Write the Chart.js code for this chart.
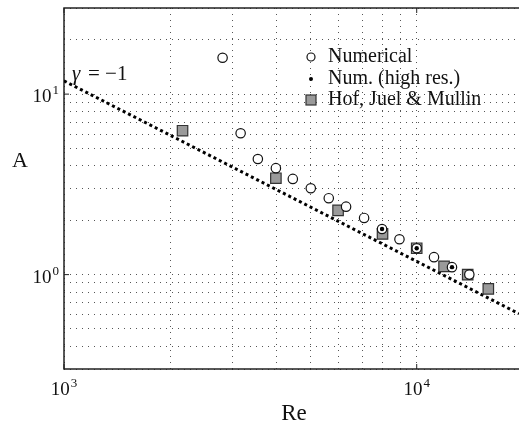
<!DOCTYPE html>
<html>
<head>
<meta charset="utf-8">
<script src="https://cdn.jsdelivr.net/npm/chart.js@4.4.0/dist/chart.umd.min.js"></script>
<style>
  html, body { margin: 0; padding: 0; background: #fff; }
  #wrap { width: 519px; height: 428px; }
</style>
</head>
<body>
<div id="wrap"><canvas id="chart" width="519" height="428"></canvas></div>
<script>
// Numerical runs (open circles)
const numRe = [2816, 3168, 3545, 3988, 4454, 5008, 5632, 6306, 7093, 7975, 8935, 10000, 11195, 12590, 14100];
const numA  = [15.9, 6.07, 4.37, 3.89, 3.39, 3.01, 2.65, 2.38, 2.06, 1.79, 1.57, 1.40, 1.25, 1.10, 1.00];
// Numerical, high resolution (black dots)
const hiRe = [7975, 10000, 12590];
const hiA  = [1.79, 1.40, 1.10];
// Hof, Juel & Mullin experiments (grey squares)
const hofRe = [2168, 3988, 5985, 8000, 10000, 11954, 13950, 15960];
const hofA  = [6.27, 3.42, 2.27, 1.68, 1.40, 1.11, 1.00, 0.834];
// gamma = -1 reference line
const slopeRe = [1000, 19500];
const slopeA  = [11.84, 0.607];

// grid / tick positions
const xGrid = [1000, 2000, 3000, 4000, 5000, 6000, 7000, 8000, 9000, 10000];
const yGrid = [0.3, 0.4, 0.5, 0.6, 0.7, 0.8, 0.9, 1, 2, 3, 4, 5, 6, 7, 8, 9, 10, 20, 30];
const xMajor = [1000, 10000];
const xMajorExp = ['3', '4'];
const yMajor = [1, 10];
const yMajorExp = ['0', '1'];

const serif = '"Liberation Serif", "DejaVu Serif", serif';

function pts(xs, ys) {
    return xs.map(function (x, i) { return { x: x, y: ys[i] }; });
}

// draws "10" with a raised exponent, anchored by align
function drawPow(ctx, exp, x, y, align) {
    ctx.font = '19px ' + serif;
    const wBase = ctx.measureText('10').width;
    ctx.font = '13px ' + serif;
    const wExp = ctx.measureText(exp).width;
    const total = wBase + wExp + 1;
    let left = x;
    if (align === 'right') left = x - total;
    if (align === 'center') left = x - total / 2;
    ctx.textAlign = 'left';
    ctx.textBaseline = 'alphabetic';
    ctx.font = '19px ' + serif;
    ctx.fillText('10', left, y);
    ctx.font = '13px ' + serif;
    ctx.fillText(exp, left + wBase + 1, y - 8);
}

const decorations = {
    id: 'decorations',
    beforeDatasetsDraw(chart) {
        const ctx = chart.ctx;
        const a = chart.chartArea;
        const xs = chart.scales.x;
        const ys = chart.scales.y;
        ctx.save();
        // frame (left, top, bottom)
        ctx.strokeStyle = '#222';
        ctx.lineWidth = 1.5;
        ctx.beginPath();
        ctx.moveTo(a.right + 2, a.top);
        ctx.lineTo(a.left, a.top);
        ctx.lineTo(a.left, a.bottom);
        ctx.lineTo(a.right + 2, a.bottom);
        ctx.stroke();
        // major tick marks
        ctx.lineWidth = 1;
        ctx.beginPath();
        xMajor.forEach(function (v) {
            const px = xs.getPixelForValue(v);
            ctx.moveTo(px, a.bottom); ctx.lineTo(px, a.bottom - 5);
            ctx.moveTo(px, a.top); ctx.lineTo(px, a.top + 5);
        });
        yMajor.forEach(function (v) {
            const py = ys.getPixelForValue(v);
            ctx.moveTo(a.left, py); ctx.lineTo(a.left + 5, py);
        });
        ctx.stroke();
        ctx.restore();
    },
    afterDraw(chart) {
        const ctx = chart.ctx;
        const a = chart.chartArea;
        const xs = chart.scales.x;
        const ys = chart.scales.y;
        ctx.save();
        ctx.fillStyle = '#111';
        // tick labels
        xMajor.forEach(function (v, i) {
            drawPow(ctx, xMajorExp[i], xs.getPixelForValue(v), a.bottom + 26, 'center');
        });
        yMajor.forEach(function (v, i) {
            drawPow(ctx, yMajorExp[i], a.left - 5, ys.getPixelForValue(v) + 8, 'right');
        });
        // axis titles
        ctx.textAlign = 'center';
        ctx.textBaseline = 'middle';
        ctx.font = '22px ' + serif;
        ctx.fillText('A', 20, 161);
        ctx.font = '23px ' + serif;
        ctx.fillText('Re', 294, a.bottom + 45);
        // slope label
        ctx.textAlign = 'left';
        ctx.font = 'italic 21px ' + serif;
        ctx.fillText('γ', 72, 74);
        ctx.font = '21px ' + serif;
        ctx.fillText('= −1', 88, 74);
        // legend
        const lx = 311, tx = 328;
        const rows = [57, 79, 100];
        ctx.font = '20px ' + serif;
        ctx.textBaseline = 'middle';
        ctx.fillText('Numerical', tx, rows[0]);
        ctx.fillText('Num. (high res.)', tx, rows[1]);
        ctx.fillText('Hof, Juel & Mullin', tx, rows[2]);
        ctx.lineWidth = 1.2;
        ctx.strokeStyle = '#111';
        ctx.beginPath();
        ctx.arc(lx, rows[0], 4, 0, Math.PI * 2);
        ctx.fillStyle = '#fff';
        ctx.fill();
        ctx.stroke();
        ctx.beginPath();
        ctx.arc(lx, rows[1], 2, 0, Math.PI * 2);
        ctx.fillStyle = '#000';
        ctx.fill();
        ctx.fillStyle = '#9a9a9a';
        ctx.fillRect(lx - 5, rows[2] - 5, 10, 10);
        ctx.strokeStyle = '#333';
        ctx.strokeRect(lx - 5, rows[2] - 5, 10, 10);
        ctx.restore();
    }
};

const gridDash = [1, 5];

new Chart(document.getElementById('chart'), {
    type: 'scatter',
    data: {
        datasets: [
            {
                label: 'Num. (high res.)',
                data: pts(hiRe, hiA),
                pointStyle: 'circle',
                pointRadius: 2.2,
                backgroundColor: '#000',
                borderColor: '#000',
                borderWidth: 0
            },
            {
                label: 'Numerical',
                data: pts(numRe, numA),
                pointStyle: 'circle',
                pointRadius: 4.7,
                backgroundColor: '#fff',
                borderColor: '#111',
                borderWidth: 1.2
            },
            {
                label: 'Hof, Juel & Mullin',
                data: pts(hofRe, hofA),
                pointStyle: 'rect',
                pointRadius: 7.4,
                backgroundColor: '#9a9a9a',
                borderColor: '#333',
                borderWidth: 1.2
            },
            {
                label: 'gamma = -1',
                type: 'line',
                data: pts(slopeRe, slopeA),
                borderColor: '#000',
                borderWidth: 3,
                borderDash: [3, 3],
                pointRadius: 0,
                fill: false
            }
        ]
    },
    options: {
        responsive: false,
        animation: false,
        layout: { autoPadding: false, padding: { top: 8, right: 0, left: 0, bottom: 0 } },
        plugins: {
            legend: { display: false },
            tooltip: { enabled: false }
        },
        scales: {
            x: {
                type: 'logarithmic',
                min: 1000,
                max: 19500,
                afterBuildTicks: function (s) { s.ticks = xGrid.map(function (v) { return { value: v }; }); },
                afterFit: function (s) { s.height = 59; },
                ticks: { display: false },
                grid: { color: '#555', lineWidth: 1, drawTicks: false },
                border: { display: false, dash: gridDash }
            },
            y: {
                type: 'logarithmic',
                min: 0.3,
                max: 30,
                afterBuildTicks: function (s) { s.ticks = yGrid.map(function (v) { return { value: v }; }); },
                afterFit: function (s) { s.width = 64; },
                ticks: { display: false },
                grid: { color: '#555', lineWidth: 1, drawTicks: false },
                border: { display: false, dash: gridDash }
            }
        }
    },
    plugins: [decorations]
});
</script>
</body>
</html>
